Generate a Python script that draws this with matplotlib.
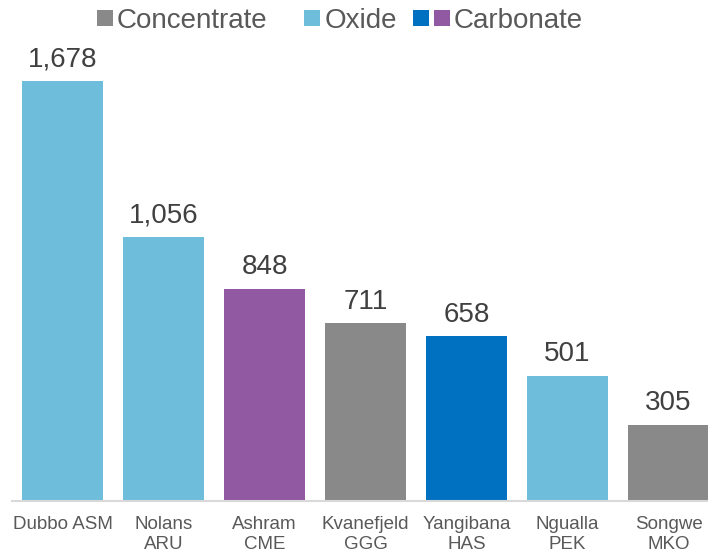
import matplotlib.pyplot as plt
from matplotlib.patches import Rectangle
from matplotlib.legend_handler import HandlerBase

# Data
projects = ['Dubbo ASM', 'Nolans\nARU', 'Ashram\nCME', 'Kvanefjeld\nGGG',
            'Yangibana\nHAS', 'Ngualla\nPEK', 'Songwe\nMKO']
values = [1678, 1056, 848, 711, 658, 501, 305]
products = ['Oxide', 'Oxide', 'Carbonate', 'Concentrate', 'Carbonate2', 'Oxide', 'Concentrate']

colors = {'Concentrate': '#898989', 'Oxide': '#6DBDDB',
          'Carbonate': '#9159A1', 'Carbonate2': '#0070C0'}

plt.rcParams['font.family'] = ['Liberation Sans', 'DejaVu Sans']


class Squares:
    def __init__(self, cols):
        self.cols = cols


class SquaresHandler(HandlerBase):
    # draws one or more square swatches, right aligned in the handle box
    def create_artists(self, legend, orig_handle, xdescent, ydescent,
                       width, height, fontsize, trans):
        s = fontsize * 0.58
        gap = fontsize * 0.18
        y0 = -ydescent + (height - s) / 2
        arts = []
        n = len(orig_handle.cols)
        for i, c in enumerate(orig_handle.cols):
            x0 = -xdescent + width - (n - i) * s - (n - 1 - i) * gap
            r = Rectangle((x0, y0), s, s, facecolor=c, edgecolor='none', transform=trans)
            arts.append(r)
        return arts


fig = plt.figure(figsize=(7.08, 5.56), dpi=100)
ax = fig.add_axes([12 / 708, 55 / 556, 696 / 708, 420 / 556])

x = range(len(values))
ax.bar(x, values, width=0.8, color=[colors[p] for p in products])

for xi, v in zip(x, values):
    ax.annotate(f'{v:,}', (xi, v), xytext=(0, 6), textcoords='offset points',
                ha='center', va='bottom', fontsize=20, color='#404040')

ax.set_xlim(-0.5, 6.39)
ax.set_ylim(0, 1678)
ax.set_xticks(list(x))
ax.set_xticklabels(projects, fontsize=13.5, color='#595959', linespacing=1.2)
ax.tick_params(axis='x', length=0, pad=11)
ax.set_yticks([])
for s in ['top', 'right', 'left']:
    ax.spines[s].set_visible(False)
ax.spines['bottom'].set_color('#D9D9D9')
ax.spines['bottom'].set_linewidth(1.5)

handles = [Squares([colors['Concentrate']]),
           Squares([colors['Oxide']]),
           Squares([colors['Carbonate2'], colors['Carbonate']])]
fig.legend(handles, ['Concentrate', 'Oxide', 'Carbonate'], ncol=3,
           loc='center', bbox_to_anchor=(0.462, 0.963), frameon=False,
           handler_map={Squares: SquaresHandler()},
           prop={'size': 20}, labelcolor='#595959',
           handlelength=1.5, handleheight=0.7,
           handletextpad=0.15, columnspacing=0.4)

fig.savefig('out.png', dpi=100)
